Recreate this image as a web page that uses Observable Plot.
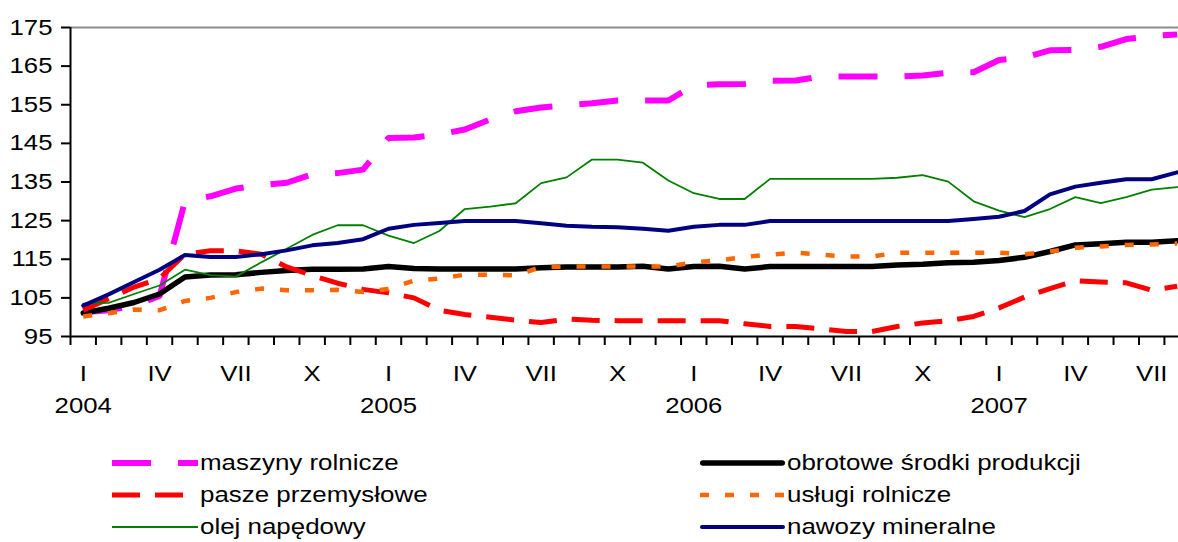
<!DOCTYPE html>
<html>
<head>
<meta charset="utf-8">
<script src="https://cdn.jsdelivr.net/npm/d3@7"></script>
<script src="https://cdn.jsdelivr.net/npm/@observablehq/plot@0.6"></script>
<style>
html, body { margin: 0; padding: 0; background: #fff; overflow: hidden; width: 1178px; height: 542px; }
#chart svg { overflow: hidden; display: block; }
#legend { position: relative; width: 1178px; height: 112px; font-family: "Liberation Sans", Arial, sans-serif; font-size: 22px; color: #000; }
.item { position: absolute; height: 32px; display: flex; align-items: center; white-space: nowrap; }
.item svg { display: block; }
.item span { display: inline-block; transform: scaleX(1.178); transform-origin: 0 50%; margin-left: 2px; line-height: 32px; }
</style>
</head>
<body>
<div id="chart"></div>
<div id="legend"></div>
<script>
// ---- tick labels ----
const romans = ["I","II","III","IV","V","VI","VII","VIII","IX","X","XI","XII"];
const yearLabels = ["2004","2005","2006","2007"];
const nMonths = 44; // I 2004 .. VIII 2007
const yTicks = [95, 105, 115, 125, 135, 145, 155, 165, 175];

// ---- series (monthly, I 2004 .. VIII 2007) ----
const seriesNames = ["maszyny rolnicze", "obrotowe środki produkcji", "pasze przemysłowe", "usługi rolnicze", "olej napędowy", "nawozy mineralne"];

const maszyny = [101.3,101.8,103,105.5,130,131.3,133.3,134.2,134.8,137,
  137.3,138.2,146.4,146.5,147.3,148.6,151.2,153.3,154.3,154.9,
  155.4,156.1,156.1,156.1,160,160.3,160.4,161.2,161.3,162.3,
  162.3,162.3,162.3,162.6,163.3,163.4,166.6,167.2,169.1,169.2,
  170,172,172.8,173.2];
const obrotowe = [101.1,102.3,103.8,106,110.4,110.9,111,111.6,112.1,112.4,
  112.4,112.5,113.1,112.6,112.5,112.5,112.5,112.5,112.8,113,
  113,113,113.2,112.5,113.1,113.2,112.5,113.1,113.1,113.1,
  113.1,113.1,113.5,113.7,114.1,114.2,114.7,115.5,117,118.7,
  119,119.4,119.4,119.8];
const pasze = [101.8,104.8,107.8,110,116.3,117.2,117.2,116.3,113,110.8,
  108.8,107.2,106.3,105,101.8,100.7,100,99.2,98.6,99.5,
  99.2,99.1,99.1,99.1,99.1,99.1,98.3,97.6,97.6,97,
  96.3,96.3,97.6,98.5,99.1,100.2,102.4,105.2,107.4,109.4,
  109.1,108.9,107,108];
const uslugi = [100.2,101,102,101.8,104.2,105,106.5,107.4,107,107,
  107.1,106.5,107.3,109.5,110,111,111,110.8,113,113.1,
  113.1,113.1,113.1,113.1,114.2,114.7,115.6,116.2,116.7,116.2,
  115.7,115.7,116.7,116.7,116.7,116.7,116.7,116.3,117,118,
  118.3,118.7,118.8,119.1];
const olej = [103.5,103.7,106,108.2,112.3,110.9,110.5,114.2,117.7,121.3,
  123.8,123.8,121.1,119.2,122.3,128,128.6,129.5,134.7,136.2,
  140.8,140.8,140,135.4,132.1,130.6,130.6,135.8,135.8,135.8,
  135.8,135.8,136.1,136.8,135.1,130,127.6,125.9,128,131.1,
  129.5,131.1,133,133.7];
const nawozy = [103,105.9,109.1,112.3,116.1,115.6,115.6,116.3,117.3,118.6,
  119.2,120.2,122.9,123.9,124.4,124.9,124.9,124.9,124.3,123.7,
  123.4,123.3,122.9,122.4,123.4,123.9,123.9,124.9,124.9,124.9,
  124.9,124.9,124.9,124.9,124.9,125.4,126,127.5,131.8,133.8,
  134.8,135.7,135.7,137.5];

const seriesValues = [maszyny, obrotowe, pasze, uslugi, olej, nawozy];

// ---- styles (kept apart from data) ----
const styles = [
  {stroke: "#FF00FF", strokeWidth: 6, strokeDasharray: "39,27", strokeLinecap: "butt", strokeLinejoin: "round"},
  {stroke: "#000000", strokeWidth: 5.5, strokeLinecap: "round", strokeLinejoin: "round"},
  {stroke: "#FF0000", strokeWidth: 5, strokeDasharray: "28,15", strokeLinecap: "butt", strokeLinejoin: "round"},
  {stroke: "#FF6600", strokeWidth: 4.5, strokeDasharray: "9,16", strokeLinecap: "butt", strokeLinejoin: "round"},
  {stroke: "#008000", strokeWidth: 1.8, strokeLinejoin: "round"},
  {stroke: "#000080", strokeWidth: 4, strokeLinecap: "round", strokeLinejoin: "round"}
];

// ---- derived tables ----
const monthLabel = [];
for (const y of yearLabels) for (const r of romans) monthLabel.push(r);
const tables = seriesValues.map((vals, s) => vals.map((v, i) => ({i, v, series: seriesNames[s]})));
const boundaries = d3.range(-0.5, nMonths, 1);
const quarterTicks = d3.range(0, nMonths, 3);
const janTicks = d3.range(0, nMonths, 12);

const W = 1178, H = 430;
const chart = Plot.plot({
  width: W,
  height: H,
  marginLeft: 70,
  marginRight: 0,
  marginTop: 27,
  marginBottom: 94,
  style: {fontFamily: "'Liberation Sans', Arial, sans-serif", fontSize: "22px", color: "black", background: "white"},
  x: {type: "linear", domain: [-0.5, nMonths - 0.5], range: [70, 70 + 25.44 * nMonths], label: null},
  y: {domain: [95, 175], label: null},
  marks: [
    Plot.ruleY([175], {stroke: "#8c8c8c", strokeWidth: 2}),
    ...tables.map((t, s) => Plot.line(t, {x: "i", y: "v", ...styles[s]})),
    Plot.ruleY([95], {stroke: "black", strokeWidth: 2}),
    Plot.ruleX([-0.5], {stroke: "black", strokeWidth: 2}),
    Plot.axisY(yTicks, {tickSize: 9, tickPadding: 9, color: "black", strokeWidth: 2, strokeOpacity: 1}),
    Plot.axisX(boundaries, {tickSize: 9, tickFormat: () => "", color: "black", strokeWidth: 2, strokeOpacity: 1}),
    Plot.axisX(quarterTicks, {tickSize: 0, tickPadding: 29, tickFormat: i => monthLabel[i], color: "black"}),
    Plot.axisX(janTicks, {tickSize: 0, tickPadding: 61, tickFormat: i => yearLabels[i / 12], color: "black"})
  ]
});
document.getElementById("chart").appendChild(chart);

// horizontal stretch of the text, as in the reference (glyph stretching via textLength)
chart.querySelectorAll("text").forEach(t => {
  if (!t.textContent) return;
  try {
    const w = t.getComputedTextLength();
    if (w > 0) {
      t.setAttribute("textLength", (w * 1.17).toFixed(2));
      t.setAttribute("lengthAdjust", "spacingAndGlyphs");
    }
  } catch (e) {}
});

// ---- legend ----
const legend = document.getElementById("legend");
const colX = [[112, 86], [700, 85]];
seriesNames.forEach((name, k) => {
  const col = k % 2, row = Math.floor(k / 2);
  const [left, w] = colX[col];
  const st = styles[k];
  const item = document.createElement("div");
  item.className = "item";
  item.style.left = left + "px";
  item.style.top = (17 + row * 32) + "px";
  const round = st.strokeLinecap === "round";
  const pad = round ? st.strokeWidth / 2 : 0;
  item.innerHTML = `<svg width="${w}" height="32"><line x1="${pad}" x2="${w - pad}" y1="16" y2="16" stroke="${st.stroke}" stroke-width="${st.strokeWidth}" ${st.strokeDasharray ? `stroke-dasharray="${st.strokeDasharray}"` : ""} stroke-linecap="${st.strokeLinecap || "butt"}"/></svg><span>${name}</span>`;
  legend.appendChild(item);
});
</script>
</body>
</html>
